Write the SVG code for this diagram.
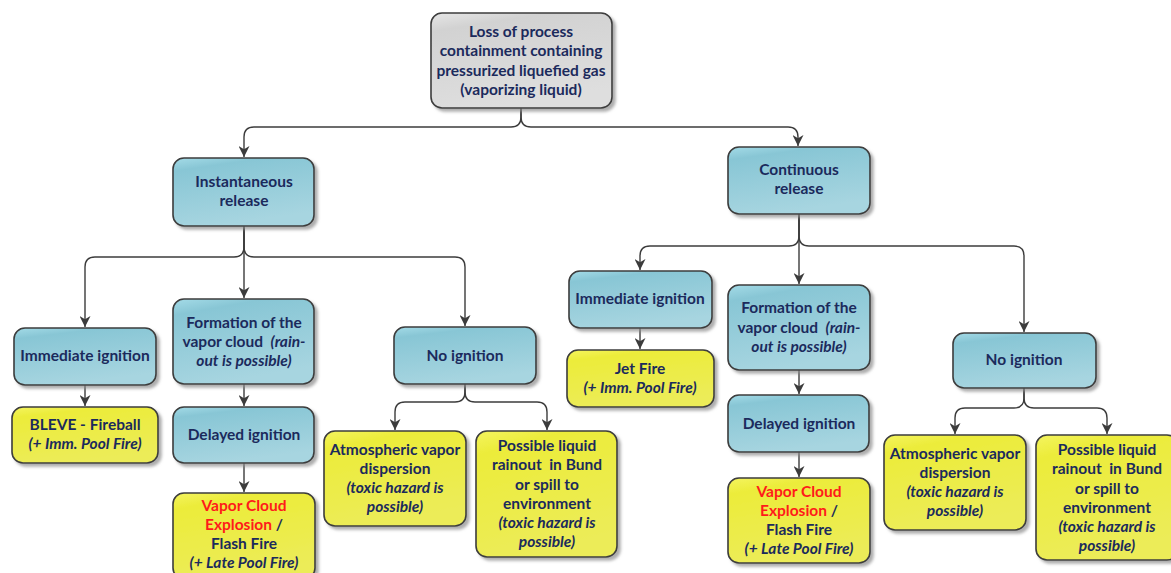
<svg xmlns="http://www.w3.org/2000/svg" width="1171" height="573" viewBox="0 0 1171 573">
  <style>
    .box { stroke: #3c3c3c; stroke-width: 1.6; filter: url(#shadow); }
    .blue { fill: url(#gBlue); }
    .yellow { fill: url(#gYellow); }
    .grey { fill: url(#gGrey); }
    text { font-family: Lato, "Open Sans", "Liberation Sans", sans-serif; font-weight: 700; font-size: 15.5px; fill: #1b2a5c; text-anchor: middle; }
    .it { font-style: italic; }
    .red { fill: #ff1a1a; }
    .link { fill: none; stroke: #3c3c3c; stroke-width: 1.4; marker-end: url(#arr); }
  </style>
  <defs>
    <linearGradient id="gBlue" x1="0" y1="0" x2="0.3" y2="1">
      <stop offset="0" stop-color="#a4dbe7"/>
      <stop offset="0.18" stop-color="#88c6d5"/>
      <stop offset="1" stop-color="#a7d5e0"/>
    </linearGradient>
    <linearGradient id="gYellow" x1="0" y1="0" x2="0.3" y2="1">
      <stop offset="0" stop-color="#f4f460"/>
      <stop offset="0.18" stop-color="#ecec3a"/>
      <stop offset="1" stop-color="#ecec58"/>
    </linearGradient>
    <linearGradient id="gGrey" x1="0" y1="0" x2="0.3" y2="1">
      <stop offset="0" stop-color="#e6e6e6"/>
      <stop offset="0.18" stop-color="#d2d2d2"/>
      <stop offset="1" stop-color="#dedede"/>
    </linearGradient>
    <filter id="shadow" x="-10%" y="-10%" width="130%" height="130%">
      <feDropShadow dx="3" dy="3" stdDeviation="1.5" flood-color="#8a8a8a" flood-opacity="0.7"/>
    </filter>
    <marker id="arr" viewBox="0 0 10 10" refX="10" refY="5" markerWidth="11" markerHeight="11" markerUnits="userSpaceOnUse" orient="auto">
      <path d="M0,0 L10,5 L0,10 L3,5 z" fill="#3c3c3c"/>
    </marker>
  </defs>

  <!-- connectors -->
  <g id="connectors">
    <path class="link" d="M521,108 V117 Q521,127 511,127 H254 Q244,127 244,137 V157"/>
    <path class="link" d="M521,108 V117 Q521,127 531,127 H788 Q798,127 798,137 V146"/>

    <path class="link" d="M244,226 V247 Q244,257 234,257 H95 Q85,257 85,267 V327"/>
    <path class="link" d="M244,226 V298"/>
    <path class="link" d="M244,226 V247 Q244,257 254,257 H455 Q465,257 465,267 V326"/>

    <path class="link" d="M85,385 V406"/>
    <path class="link" d="M244,384 V406"/>
    <path class="link" d="M244,463 V492"/>

    <path class="link" d="M465,384 V392 Q465,402 455,402 H405 Q395,402 395,412 V430"/>
    <path class="link" d="M465,384 V392 Q465,402 475,402 H537 Q547,402 547,412 V430"/>

    <path class="link" d="M799,214 V236 Q799,246 789,246 H650 Q640,246 640,256 V270"/>
    <path class="link" d="M799,214 V284"/>
    <path class="link" d="M799,214 V236 Q799,246 809,246 H1014 Q1024,246 1024,256 V332"/>

    <path class="link" d="M640,328 V349"/>
    <path class="link" d="M799,370 V394"/>
    <path class="link" d="M799,452 V477"/>

    <path class="link" d="M1024,388 V398 Q1024,408 1014,408 H965 Q955,408 955,418 V434"/>
    <path class="link" d="M1024,388 V398 Q1024,408 1034,408 H1097 Q1107,408 1107,418 V434"/>
  </g>

  <!-- root -->
  <g id="loss-of-containment">
    <rect class="box grey" x="431" y="13" width="181" height="95" rx="11"/>
    <text x="521" y="37">Loss of process</text>
    <text x="521" y="56">containment containing</text>
    <text x="521" y="76">pressurized liquefied gas</text>
    <text x="521" y="95">(vaporizing liquid)</text>
  </g>

  <!-- instantaneous branch -->
  <g id="instantaneous-release">
    <rect class="box blue" x="173" y="158" width="141" height="68" rx="11"/>
    <text x="244" y="187">Instantaneous</text>
    <text x="244" y="206">release</text>
  </g>
  <g id="inst-immediate-ignition">
    <rect class="box blue" x="14" y="328" width="142" height="57" rx="11"/>
    <text x="85" y="361">Immediate ignition</text>
  </g>
  <g id="inst-vapor-cloud">
    <rect class="box blue" x="173" y="299" width="141" height="85" rx="11"/>
    <text x="244" y="328">Formation of the</text>
    <text x="244" y="347" xml:space="preserve">vapor cloud  <tspan class="it">(rain-</tspan></text>
    <text x="244" y="366" class="it">out is possible)</text>
  </g>
  <g id="inst-bleve">
    <rect class="box yellow" x="12" y="407" width="146" height="56" rx="11"/>
    <text x="85" y="430">BLEVE - Fireball</text>
    <text x="85" y="449" class="it">(+ Imm. Pool Fire)</text>
  </g>
  <g id="inst-delayed-ignition">
    <rect class="box blue" x="173" y="407" width="141" height="56" rx="11"/>
    <text x="244" y="440">Delayed ignition</text>
  </g>
  <g id="inst-vce">
    <rect class="box yellow" x="173" y="493" width="142" height="86" rx="11"/>
    <text x="244" y="511" class="red">Vapor Cloud</text>
    <text x="244" y="530"><tspan class="red">Explosion</tspan> /</text>
    <text x="244" y="549">Flash Fire</text>
    <text x="244" y="568" class="it">(+ Late Pool Fire)</text>
  </g>
  <g id="inst-no-ignition">
    <rect class="box blue" x="394" y="327" width="142" height="57" rx="11"/>
    <text x="465" y="361">No ignition</text>
  </g>
  <g id="inst-dispersion">
    <rect class="box yellow" x="324" y="431" width="142" height="95" rx="11"/>
    <text x="395" y="455">Atmospheric vapor</text>
    <text x="395" y="474">dispersion</text>
    <text x="395" y="493" class="it">(toxic hazard is</text>
    <text x="395" y="512" class="it">possible)</text>
  </g>
  <g id="inst-rainout">
    <rect class="box yellow" x="476" y="431" width="141" height="126" rx="11"/>
    <text x="547" y="451">Possible liquid</text>
    <text x="547" y="470" xml:space="preserve">rainout  in Bund</text>
    <text x="547" y="490">or spill to</text>
    <text x="547" y="509">environment</text>
    <text x="547" y="528" class="it">(toxic hazard is</text>
    <text x="547" y="547" class="it">possible)</text>
  </g>

  <!-- continuous branch -->
  <g id="continuous-release">
    <rect class="box blue" x="728" y="147" width="142" height="67" rx="11"/>
    <text x="799" y="175">Continuous</text>
    <text x="799" y="194">release</text>
  </g>
  <g id="cont-immediate-ignition">
    <rect class="box blue" x="569" y="271" width="143" height="57" rx="11"/>
    <text x="640" y="304">Immediate ignition</text>
  </g>
  <g id="cont-jet-fire">
    <rect class="box yellow" x="567" y="350" width="147" height="57" rx="11"/>
    <text x="640" y="374">Jet Fire</text>
    <text x="640" y="393" class="it">(+ Imm. Pool Fire)</text>
  </g>
  <g id="cont-vapor-cloud">
    <rect class="box blue" x="728" y="285" width="142" height="85" rx="11"/>
    <text x="799" y="313">Formation of the</text>
    <text x="799" y="333" xml:space="preserve">vapor cloud  <tspan class="it">(rain-</tspan></text>
    <text x="799" y="352" class="it">out is possible)</text>
  </g>
  <g id="cont-delayed-ignition">
    <rect class="box blue" x="728" y="395" width="141" height="57" rx="11"/>
    <text x="799" y="429">Delayed ignition</text>
  </g>
  <g id="cont-vce">
    <rect class="box yellow" x="728" y="478" width="142" height="85" rx="11"/>
    <text x="799" y="497" class="red">Vapor Cloud</text>
    <text x="799" y="516"><tspan class="red">Explosion</tspan> /</text>
    <text x="799" y="535">Flash Fire</text>
    <text x="799" y="554" class="it">(+ Late Pool Fire)</text>
  </g>
  <g id="cont-no-ignition">
    <rect class="box blue" x="953" y="333" width="143" height="55" rx="11"/>
    <text x="1024" y="365">No ignition</text>
  </g>
  <g id="cont-dispersion">
    <rect class="box yellow" x="884" y="435" width="142" height="95" rx="11"/>
    <text x="955" y="459">Atmospheric vapor</text>
    <text x="955" y="478">dispersion</text>
    <text x="955" y="497" class="it">(toxic hazard is</text>
    <text x="955" y="516" class="it">possible)</text>
  </g>
  <g id="cont-rainout">
    <rect class="box yellow" x="1036" y="435" width="142" height="125" rx="11"/>
    <text x="1107" y="455">Possible liquid</text>
    <text x="1107" y="474" xml:space="preserve">rainout  in Bund</text>
    <text x="1107" y="494">or spill to</text>
    <text x="1107" y="513">environment</text>
    <text x="1107" y="532" class="it">(toxic hazard is</text>
    <text x="1107" y="551" class="it">possible)</text>
  </g>
</svg>
